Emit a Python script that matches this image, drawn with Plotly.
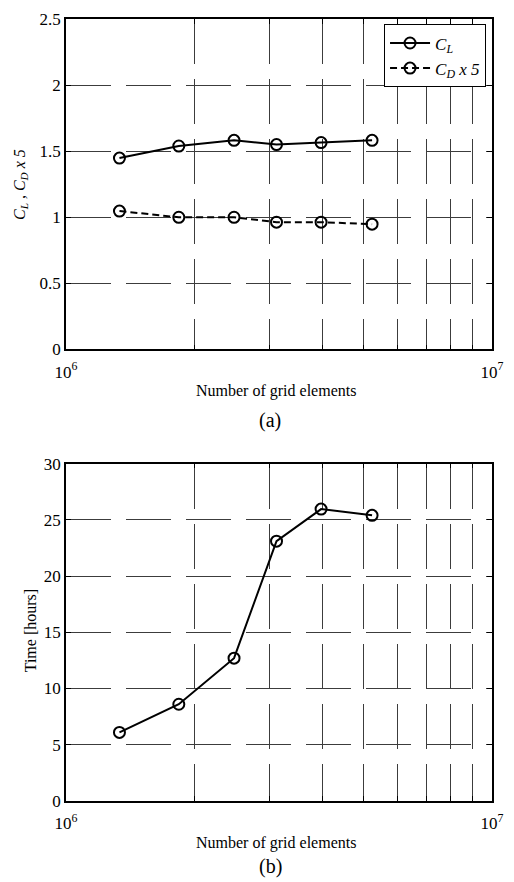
import plotly.graph_objects as go

# ---- data ----
grid_elements = [1.335e6, 1.84e6, 2.48e6, 3.12e6, 3.97e6, 5.23e6]
cl_values = [1.448, 1.539, 1.582, 1.550, 1.565, 1.582]
cd5_values = [1.047, 1.000, 1.000, 0.963, 0.963, 0.948]
time_hours = [6.1, 8.6, 12.7, 23.1, 25.95, 25.4]

x_tickvals = [1e6, 2e6, 3e6, 4e6, 5e6, 6e6, 7e6, 8e6, 9e6, 1e7]
x_ticktext = ["10<sup>6</sup>", "", "", "", "", "", "", "", "", "10<sup>7</sup>"]
y1_tickvals = [0, 0.5, 1, 1.5, 2, 2.5]
y2_tickvals = [0, 5, 10, 15, 20, 25, 30]

FONT = "Liberation Serif"
GRIDC = "#3c3c3c"

fig = go.Figure()

mk = dict(symbol="circle-open", size=11, color="black", line=dict(width=2, color="black"))

fig.add_trace(go.Scatter(x=grid_elements, y=cl_values, mode="lines+markers",
                         name="<i>C<sub>L</sub></i>",
                         line=dict(color="black", width=2), marker=mk,
                         xaxis="x", yaxis="y"))
fig.add_trace(go.Scatter(x=grid_elements, y=cd5_values, mode="lines+markers",
                         name="<i>C<sub>D</sub> x 5</i>",
                         line=dict(color="black", width=2, dash="7px,4px"), marker=mk,
                         xaxis="x", yaxis="y"))
fig.add_trace(go.Scatter(x=grid_elements, y=time_hours, mode="lines+markers",
                         showlegend=False,
                         line=dict(color="black", width=2), marker=mk,
                         xaxis="x2", yaxis="y2"))

xcommon = dict(type="log", range=[6, 7], tickmode="array", tickvals=x_tickvals,
               ticktext=x_ticktext, showgrid=True, gridcolor=GRIDC, gridwidth=1,
               griddash="45px,15px", showline=True, linecolor="black", linewidth=1.5,
               mirror="ticks", ticks="inside", ticklen=5, tickcolor="black",
               zeroline=False, ticklabelstandoff=6,
               tickfont=dict(family=FONT, size=17, color="black"))
ycommon = dict(showgrid=True, gridcolor=GRIDC, gridwidth=1, griddash="45px,15px",
               showline=True, linecolor="black", linewidth=1.5, mirror="ticks",
               ticks="inside", ticklen=5, tickcolor="black", zeroline=False,
               tickfont=dict(family=FONT, size=17, color="black"))

top_dom = [0.5774, 1.0]
bot_dom = [0.0, 0.4315]

fig.update_layout(
    width=514, height=882,
    margin=dict(l=66, r=10, t=13, b=81),
    paper_bgcolor="white", plot_bgcolor="white",
    font=dict(family=FONT, color="black"),
    xaxis=dict(domain=[0, 1], anchor="y", **xcommon),
    yaxis=dict(domain=top_dom, anchor="x", range=[0, 2.5], tickvals=y1_tickvals, **ycommon),
    xaxis2=dict(domain=[0, 1], anchor="y2", **xcommon),
    yaxis2=dict(domain=bot_dom, anchor="x2", range=[0, 30], tickvals=y2_tickvals, **ycommon),
    legend=dict(x=0.986, y=0.993, xanchor="right", yanchor="top",
                bgcolor="white", bordercolor="black", borderwidth=1,
                font=dict(family=FONT, size=17, color="black"),
                itemwidth=40, tracegroupgap=2),
    showlegend=True,
)

def py(Y):
    return (801 - Y) / 788

def px(X):
    return (X - 66) / 438

ann = [
    dict(text="Number of grid elements", x=px(282), y=py(388), size=16),
    dict(text="(a)", x=px(276), y=py(418), size=20),
    dict(text="Number of grid elements", x=px(282), y=py(843), size=16),
    dict(text="(b)", x=px(276), y=py(867), size=20),
]
for a in ann:
    fig.add_annotation(text=a["text"], x=a["x"], y=a["y"], xref="paper", yref="paper",
                       showarrow=False, xanchor="center", yanchor="middle",
                       font=dict(family=FONT, size=a["size"], color="black"))

fig.add_annotation(text="<i>C<sub>L</sub> , C<sub>D</sub> x 5</i>", x=px(19), y=py(180),
                   xref="paper", yref="paper", showarrow=False, textangle=-90,
                   xanchor="center", yanchor="middle",
                   font=dict(family=FONT, size=16, color="black"))
fig.add_annotation(text="Time [hours]", x=px(29), y=py(630),
                   xref="paper", yref="paper", showarrow=False, textangle=-90,
                   xanchor="center", yanchor="middle",
                   font=dict(family=FONT, size=16, color="black"))

fig.write_html("out.html")
